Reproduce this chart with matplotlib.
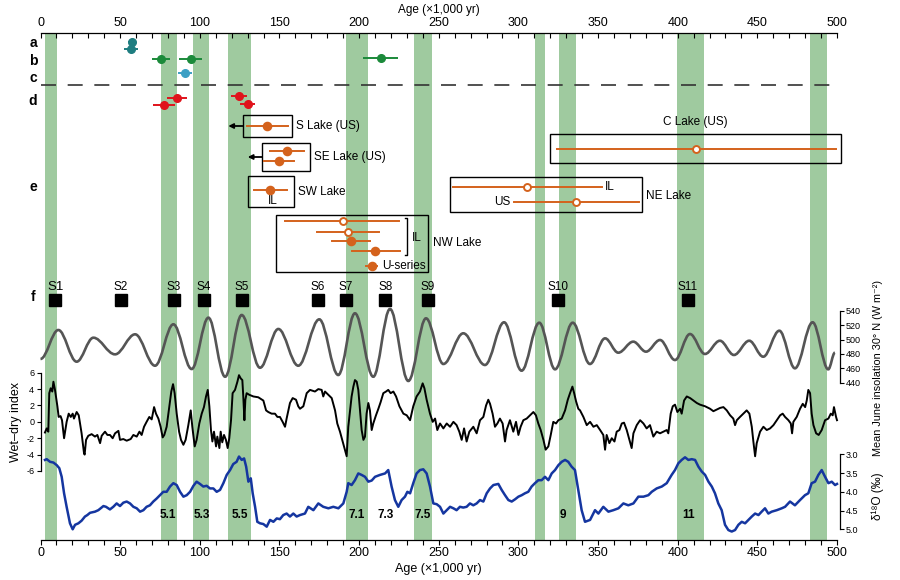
import matplotlib.pyplot as plt
from matplotlib.path import Path
from matplotlib.patches import PathPatch, Rectangle
from matplotlib.ticker import MultipleLocator

plt.rcParams['font.family'] = ['Liberation Sans', 'DejaVu Sans']
plt.rcParams['axes.unicode_minus'] = False

GREEN = '#9fca9f'
ORANGE = '#d4621c'

# ---------------- data ----------------
# interglacial / wet bands (kyr)
band_start = [2.8, 75.6, 95.9, 117.9, 191.8, 234.6, 310.2, 325.7, 399.4, 483.1]
band_end = [10.4, 85.7, 105.8, 132.0, 205.8, 245.8, 316.9, 336.3, 416.7, 493.8]

# dated records a-d (age, 1 sigma)
a_age = [57.6, 56.8]
a_err = [2.6, 4.4]
b_age = [75.8, 94.3, 213.7]
b_err = [5.7, 7.2, 11.0]
c_age = [90.7]
c_err = [4.2]
d_age = [85.5, 77.5, 124.8, 130.1]
d_err = [6.3, 7.0, 5.0, 4.8]

# lake shoreline ages (row e)
lake_age = [142.4, 154.6, 149.7, 144.3, 189.7, 192.8, 194.7, 210.0, 207.9, 411.3, 305.6, 336.3]
lake_lo = [129.4, 144.1, 140.5, 134.2, 153.5, 173.8, 182.8, 195.4, 204.1, 324.0, 259.1, 297.4]
lake_hi = [155.3, 165.6, 158.9, 154.9, 225.2, 212.5, 206.8, 225.7, 211.0, 499.2, 352.3, 375.5]
lake_open = [False, False, False, False, True, True, False, False, False, True, True, True]

# speleothem / site ages (row f)
site_names = ['S1', 'S2', 'S3', 'S4', 'S5', 'S6', 'S7', 'S8', 'S9', 'S10', 'S11']
site_age = [9.3, 50.3, 83.6, 102.4, 126.3, 174.0, 191.6, 216.4, 243.1, 324.9, 406.5]

# insolation extrema (kyr, W m-2)
ins_age = [0, 11.2, 22.7, 33.2, 46.8, 59.4, 71.9, 83.4, 94.9, 105.4, 115.9, 126.3,
           137.8, 149.3, 161.8, 175.0, 186.9, 197.4, 208.9, 219.4, 230.9, 242.0,
           252.9, 265.4, 279.0, 291.0, 302.0, 313.1, 323.0, 334.1, 344.9, 354.4,
           362.7, 372.1, 380.1, 388.9, 398.3, 407.7, 417.1, 426.5, 435.3, 444.9,
           453.7, 463.8, 473.6, 484.7, 494.5, 498.7]
ins_val = [473, 513.2, 469.2, 502.5, 479.4, 507.2, 463.6, 521.1, 459.0, 530.3, 448.3, 534.0,
           460.8, 514.6, 463.6, 528.0, 450.7, 536.4, 448.3, 542.4, 442.4, 529.4,
           466.0, 508.6, 464.6, 523.9, 456.7, 523.3, 458.6, 523.3, 466.0, 501.6,
           481.7, 497.0, 483.1, 499.3, 471.5, 507.6, 479.9, 498.3, 478.5, 498.3,
           476.1, 512.2, 460.0, 523.9, 458.6, 481.7]

# wet-dry index
wd_age = [2.8, 3.9, 4.9, 5.5, 6.4, 7.4, 8.1, 9.1, 10.6, 11.4, 12.6, 13.5, 14.8, 15.6, 16.4,
          17.7, 19.0, 20.2, 21.0, 22.7, 24.0, 24.8, 25.8, 27.3, 27.7, 28.6, 30.0, 32.1,
          34.2, 35.7, 37.4, 38.4, 40.5, 42.0, 43.6, 45.3, 46.8, 48.9, 49.9, 52.0, 54.1,
          56.6, 58.3, 60.4, 62.1, 63.5, 65.0, 66.6, 68.3, 69.8, 71.3, 72.5, 74.0, 75.4,
          76.7, 77.7, 79.2, 80.9, 82.1, 83.2, 84.2, 85.5, 87.0, 88.2, 89.7, 91.1, 92.8,
          94.3, 95.3, 96.8, 98.0, 99.7, 101.2, 102.6, 103.9, 105.0, 106.0, 107.0, 107.9,
          108.9, 110.2, 111.0, 112.3, 113.1, 114.1, 115.2, 116.4, 117.5, 118.5, 119.6,
          120.6, 122.1, 123.6, 124.6, 125.7, 126.7, 127.3, 128.0, 128.6, 129.4, 131.1,
          133.6, 136.7, 139.9, 141.6, 143.0, 145.1, 147.2, 148.7, 150.3, 152.0, 153.5,
          154.5, 156.6, 158.3, 160.4, 161.8, 162.9,
          165.0, 167.1, 169.2, 172.3, 174.4, 176.5, 177.5, 178.6, 180.7, 182.8, 184.9,
          186.3, 188.0, 189.7, 191.1, 192.2, 193.2, 194.3, 195.3, 196.4, 197.4, 198.5,
          199.5, 200.6, 201.6, 202.7, 203.7, 204.7, 205.8, 206.8, 207.9, 208.9, 210.6,
          212.1, 213.5, 215.2, 216.9, 218.3, 219.8, 221.5, 223.2, 225.3, 227.8, 229.9,
          232.0, 234.0, 236.1, 238.2, 239.9, 241.0, 242.4, 244.5, 246.2, 247.7, 249.1,
          250.8, 252.9, 255.0, 257.1, 259.2, 261.2, 262.9, 264.4, 265.9, 267.5, 269.2,
          271.7, 273.8, 275.9, 278.0, 279.7, 281.1, 282.2, 283.8, 285.3, 286.8, 288.4,
          290.1, 291.6, 292.6, 294.7, 296.8, 298.5, 300.0, 301.4, 303.1, 305.2, 307.3,
          309.4, 311.0, 312.5, 314.0, 315.7, 317.1, 318.8, 320.3, 321.9, 323.6, 325.1,
          327.2, 329.3, 331.0, 332.4, 333.9, 335.0, 336.2, 337.6,
          338.7, 340.8, 342.9, 345.0, 347.1, 349.2, 351.3, 353.3, 354.4, 355.4, 357.1,
          358.6, 360.3, 361.7, 363.4, 364.9, 366.3, 368.0, 369.7, 371.1, 372.2, 374.3,
          376.4, 378.5, 380.5, 382.6, 384.7, 386.8, 388.9, 391.0, 393.1, 394.1, 395.6,
          396.9, 398.3, 399.8, 401.5, 402.5, 404.0, 405.7, 407.8, 409.9, 412.0, 414.0,
          417.2, 420.3, 422.4, 424.5, 426.6, 428.7, 430.8, 432.9, 434.9, 436.0, 437.1,
          439.1, 441.2, 443.3, 445.0, 446.5, 447.5, 448.6, 449.6, 451.7, 453.8, 455.9,
          458.0, 460.1, 462.2, 464.3, 465.9, 467.4, 469.5, 471.0, 471.8, 472.6, 474.7,
          476.8, 478.5, 480.0, 481.0, 482.0, 483.1, 484.1, 485.2, 486.9, 488.5, 490.4,
          492.5, 494.6, 496.1, 497.3, 498.1, 499.4, 500.0]
wd_val = [-1.3, -0.8, -1.2, 3.5, 4.1, 3.7, 4.9, 3.9, 1.9, 0.6, 0.7, 0.2, -2.0, -1.0, 0.0,
          1.0, 0.6, 1.0, 0.4, 1.2, 0.8, -0.2, -1.4, -3.8, -4.0, -2.2, -1.7, -1.5,
          -1.8, -1.6, -2.6, -1.7, -1.2, -1.6, -1.6, -2.0, -1.4, -1.1, -2.2, -2.1, -2.3,
          -2.1, -1.6, -1.8, -1.2, -1.6, -0.6, 0.0, 0.6, 0.3, 1.8, 1.0, 0.4, -0.6,
          -1.9, -1.6, -0.6, 1.9, 3.7, 4.6, 3.5, 1.0, -1.2, -2.2, -2.8, -2.2, -0.4,
          1.4, -0.6, -3.0, -2.2, -0.2, 1.0, 1.8, 3.1, 3.9, 1.9, -1.0, -2.4,
          -1.2, -3.0, -1.8, -3.2, -1.2, -2.5, -1.6, -2.2, -3.2, -2.0, 0.2,
          3.5, 3.9, 4.9, 5.7, 5.3, 5.1, 3.1, 0.2, 2.7, 3.5, 3.3,
          3.1, 3.0, 2.6, 1.4, 1.2, 1.0, 1.0, 0.6, 0.6, 0.0, -0.6,
          0.4, 2.3, 2.9, 2.7, 1.9, 1.6,
          1.9, 3.5, 3.9, 3.7, 4.0, 3.9, 3.1, 3.7, 3.3, 2.9, 1.4,
          -0.2, -1.2, -2.4, -3.4, -4.2, -0.6, 1.4, 3.1, 4.3, 5.1, 4.9,
          3.9, 1.4, -1.0, -2.2, -1.8, 1.0, 2.3, 1.4, -1.0, -0.2, 0.8,
          1.6, 2.4, 3.5, 3.7, 3.9, 3.5, 3.7, 3.1, 1.9, 1.0, 0.8,
          0.2, 1.9, 3.1, 3.7, 4.7, 4.1, 2.7, 1.0, 0.0, 0.4, -1.0,
          -0.2, -0.8, -0.2, -0.6, 0.0, -0.4, -1.2, -2.2, -0.8, -2.4, -1.2,
          -0.6, -1.4, 0.2, 0.6, 2.0, 2.7, 2.2, 1.0, -0.6, -0.2, 0.4,
          -0.2, -2.4, -1.0, 0.2, -1.2, 0.0, -1.6, -0.6, 0.2, 0.4, 0.8,
          1.2, 0.8, -0.2, -1.0, -2.2, -3.4, -3.0, -1.6, 0.0, -0.2, 0.2,
          0.4, 1.4, 2.7, 3.5, 4.3, 3.5, 2.5, 1.6,
          1.4, 0.6, -0.4, 0.0, -0.6, -0.4, -1.0, -1.6, -3.4, -1.6, -2.6,
          -2.0, -2.4, -1.2, -1.0, -0.2, -0.1, -1.0, -2.2, -3.2, -1.4, -0.4,
          0.2, -0.2, -0.8, -0.4, -1.8, -1.2, -1.4, -1.2, -1.0, -1.4, 1.0,
          1.9, 2.1, 1.2, 1.6, 1.0, 2.6, 3.1, 2.9, 2.6, 2.3, 2.1,
          1.9, 1.6, 1.3, 1.5, 1.7, 1.8, 1.4, 0.8, 0.4, -0.4, 0.2,
          0.6, 1.0, 1.4, 1.0, -0.6, -2.4, -4.2, -2.6, -1.2, -0.6, -1.0,
          -0.8, -0.4, 0.2, 0.8, 1.0, 0.6, 0.2, -0.2, -1.4, 0.0, 0.6,
          1.6, 2.2, 1.8, 2.6, 3.9, 3.5, 1.0, -0.4, -1.4, -1.6, -1.0,
          0.2, 0.4, 1.0, 0.8, 1.8, 0.6, 0.2]

# benthic d18O stack
d18_age = [2.8, 3.9, 6.0, 8.1, 10.2, 11.8, 13.3, 14.8, 16.4, 18.5, 20.2, 21.7, 23.8, 25.8,
           27.9, 29.4, 31.1, 34.2, 36.3, 39.5, 41.1, 43.6, 45.7, 47.8, 49.9, 52.0, 54.1,
           56.2, 58.3, 60.4, 62.5, 64.6, 66.6, 68.7, 70.8, 72.9, 75.0, 77.1, 79.2, 81.3,
           83.4, 85.5, 87.6, 89.7, 91.8, 93.9, 96.0, 98.0, 100.1, 102.2, 104.3, 106.4,
           108.5, 110.6, 112.7, 114.8, 116.9, 119.0, 121.0, 123.1, 124.6, 126.3, 127.8,
           129.1, 130.5, 132.0, 133.2, 134.7, 136.1, 137.8, 139.9, 142.0, 144.1, 146.2,
           148.3, 150.3, 152.4, 154.5, 156.6, 158.7, 160.8,
           162.9, 166.0, 168.1, 171.3, 174.4, 177.5, 180.7, 183.8, 187.0, 190.1, 192.2,
           193.2, 195.3, 197.4, 199.5, 201.6, 203.7, 205.8, 207.9, 210.0, 213.1, 216.3,
           218.3, 220.4, 222.5, 224.6, 226.7, 228.8, 230.3, 232.0, 234.0, 236.1, 238.2,
           240.3, 242.4, 244.5, 246.6, 248.7, 250.8, 252.9, 255.0, 257.1, 259.2, 261.2,
           263.3, 265.4, 267.5, 269.6, 271.7, 273.8, 275.9, 278.0, 280.1, 282.2, 284.3,
           287.4, 289.5, 291.6, 293.7, 295.8, 297.9, 300.0, 302.1, 304.1, 306.2, 308.3,
           310.4, 312.5, 314.6, 316.7, 318.8, 320.9, 323.0, 325.1, 327.2, 329.3, 331.3,
           333.4, 335.5, 337.6, 339.7, 341.8,
           345.0, 348.1, 350.2, 353.3, 356.5, 359.6, 362.8, 365.9, 369.0, 372.2, 375.3,
           378.5, 381.6, 383.7, 386.8, 390.0, 393.1, 396.2, 398.3, 400.4, 402.5, 404.6,
           406.7, 408.8, 410.9, 413.0, 415.1, 417.2, 419.3, 421.4, 423.4, 425.5, 427.6,
           429.7, 431.8, 433.9, 436.0, 438.1, 440.2, 442.3, 444.4, 446.5, 448.6, 450.7,
           452.7, 454.8, 456.9, 459.0, 462.2, 465.3, 467.4, 470.5, 473.6, 476.8, 479.9,
           482.0, 484.1, 486.2, 488.3, 490.4, 492.5, 494.6, 496.7, 498.8, 500.0]
d18_val = [3.15, 3.13, 3.20, 3.22, 3.29, 3.37, 3.60, 4.04, 4.40, 4.84, 5.00, 4.88, 4.84, 4.77,
           4.66, 4.62, 4.56, 4.53, 4.49, 4.38, 4.40, 4.47, 4.40, 4.31, 4.38, 4.29, 4.26,
           4.31, 4.40, 4.44, 4.53, 4.49, 4.40, 4.36, 4.26, 4.18, 4.09, 4.00, 4.00, 3.86,
           3.77, 3.82, 4.00, 4.13, 4.09, 4.00, 3.84, 3.73, 3.79, 3.86, 3.84, 3.91,
           3.91, 4.00, 3.95, 3.77, 3.55, 3.42, 3.26, 3.20, 3.06, 3.15, 3.11,
           3.33, 3.73, 3.64, 4.04, 4.40, 4.80, 4.84, 4.86, 4.93, 4.75, 4.80,
           4.71, 4.73, 4.62, 4.58, 4.66, 4.58, 4.66,
           4.62, 4.58, 4.40, 4.49, 4.31, 4.40, 4.44, 4.40, 4.44, 4.31, 4.00,
           3.77, 3.82, 3.69, 3.51, 3.55, 3.60, 3.73, 3.70, 3.60, 3.55, 3.51,
           3.42, 3.86, 4.22, 4.40, 4.22, 4.13, 4.00, 4.04, 3.77, 3.51, 3.42,
           3.40, 3.51, 3.86, 4.31, 4.33, 4.40, 4.58, 4.49, 4.40, 4.44, 4.49,
           4.40, 4.42, 4.40, 4.31, 4.36, 4.31, 4.22, 4.26, 4.04, 3.91, 3.82,
           3.79, 3.95, 4.09, 4.22, 4.26, 4.20, 4.13, 4.09, 4.04, 4.00, 3.86,
           3.77, 3.69, 3.69, 3.60, 3.69, 3.51, 3.42, 3.29, 3.20, 3.15, 3.20,
           3.33, 3.42, 3.95, 4.49, 4.80,
           4.75, 4.49, 4.58, 4.40, 4.53, 4.49, 4.44, 4.31, 4.36, 4.31, 4.13,
           4.13, 4.09, 4.00, 3.91, 3.86, 3.77, 3.55, 3.42, 3.24, 3.15, 3.08,
           3.15, 3.13, 3.15, 3.33, 3.46, 3.55, 3.73, 3.86, 4.04, 4.31, 4.49,
           4.88, 5.02, 5.06, 5.02, 4.88, 4.80, 4.84, 4.75, 4.66, 4.58, 4.62,
           4.53, 4.44, 4.58, 4.53, 4.49, 4.44, 4.40, 4.26, 4.36, 4.22, 4.09,
           4.04, 3.77, 3.73, 3.55, 3.42, 3.60, 3.77, 3.73, 3.82, 3.79]

stage_names = ['5.1', '5.3', '5.5', '7.1', '7.3', '7.5', '9', '11']
stage_age = [80.0, 101.2, 125.2, 198.5, 216.9, 239.9, 328.2, 407.1]

# ---------------- layout (pixel rows of the upper panel) ----------------
a_y = [42, 49]
b_y = [59, 59, 58]
c_y = [73.3]
d_y = [98.3, 105, 96, 103.7]
lake_y = [126, 150.7, 161, 190, 220.7, 231.7, 241.3, 250.7, 265.7, 149, 187.3, 201.7]
site_y = 300

fig = plt.figure(figsize=(9, 5.8), dpi=100)
L, W = 40.5 / 900, 796.5 / 900


def fy(px):
    return 1 - px / 580


ax = fig.add_axes([L, fy(540), W, (540 - 33) / 580])
ax.set_xlim(0, 500)
ax.set_ylim(540, 33)
for s in ['left', 'right', 'top']:
    ax.spines[s].set_visible(False)
ax.set_yticks([])
ax.spines['bottom'].set_linewidth(0.9)
ax.set_xticks(range(0, 501, 50))
ax.xaxis.set_minor_locator(MultipleLocator(10))
ax.tick_params(axis='x', which='both', direction='out', length=3.5, width=0.8, labelsize=9, pad=1.5)
ax.set_xlabel('Age (×1,000 yr)', fontsize=9, labelpad=3)

top = ax.secondary_xaxis('top')
top.set_xticks(range(0, 501, 50))
top.xaxis.set_minor_locator(MultipleLocator(10))
top.tick_params(axis='x', which='both', direction='in', length=3.5, width=0.8, labelsize=9, pad=3)
top.spines['top'].set_linewidth(0.9)
top.set_xlabel('Age (×1,000 yr)', fontsize=8.5, labelpad=3)

for s, e in zip(band_start, band_end):
    ax.axvspan(s, e, color=GREEN, lw=0, zorder=0)

# rows a-d
ax.axhline(85, color='#333333', lw=1.2, dashes=(9, 7), zorder=2)
for ages, errs, ys, col in [(a_age, a_err, a_y, '#1e7d80'), (b_age, b_err, b_y, '#1b8a3a'),
                             (c_age, c_err, c_y, '#3c9fc4'), (d_age, d_err, d_y, '#e0131b')]:
    ax.errorbar(ages, ys, xerr=errs, fmt='o', color=col, ms=5.5, elinewidth=1.4,
                capsize=0, zorder=3)

for t, y in zip(['a', 'b', 'c', 'd', 'e', 'f'], [43, 61, 78, 101, 187, 297]):
    ax.text(-4.7, y, t, ha='center', va='center', fontsize=10, fontweight='bold', clip_on=False)

# row e - lake boxes
boxes = [(126.9, 157.7, 115, 136.7), (139.0, 169.2, 142.7, 170.7), (130.4, 158.9, 176, 207),
         (147.8, 243.4, 214.7, 272.3), (319.8, 502.5, 134, 163.3), (257.2, 377.4, 176.7, 212.3)]
for x0, x1, y0, y1 in boxes:
    ax.add_patch(Rectangle((x0, y0), x1 - x0, y1 - y0, fill=False, ec='black', lw=1.0,
                           clip_on=False, zorder=3))

for age, lo, hi, op, y in zip(lake_age, lake_lo, lake_hi, lake_open, lake_y):
    ax.plot([lo, hi], [y, y], color=ORANGE, lw=1.4, zorder=4, clip_on=False)
    ax.plot(age, y, 'o', ms=5.5 if not op else 5, mfc='white' if op else ORANGE,
            mec=ORANGE, mew=1.4, zorder=5)

for x_from, x_to, y in [(126.9, 117.9, 126), (139.0, 130.1, 157)]:
    ax.annotate('', xy=(x_to, y), xytext=(x_from, y),
                arrowprops=dict(arrowstyle='-|>', color='black', lw=1.3,
                                mutation_scale=7, shrinkA=0, shrinkB=0))

ax.plot([228.6, 229.9, 229.9, 228.6], [218, 218, 255, 255], color='black', lw=1.0)

fs = 8.5
ax.text(160.4, 126, 'S Lake (US)', fontsize=fs, va='center')
ax.text(171.9, 157, 'SE Lake (US)', fontsize=fs, va='center')
ax.text(161.5, 192, 'SW Lake', fontsize=fs, va='center')
ax.text(146.0, 201, 'IL', fontsize=fs, va='center', ha='center')
ax.text(233.0, 238, 'IL', fontsize=fs, va='center')
ax.text(214.2, 265.7, 'U-series', fontsize=fs, va='center')
ax.text(246.2, 243, 'NW Lake', fontsize=fs, va='center')
ax.text(411.3, 122, 'C Lake (US)', fontsize=fs, va='center', ha='center')
ax.text(354.4, 187, 'IL', fontsize=fs, va='center')
ax.text(294.7, 201.7, 'US', fontsize=fs, va='center', ha='right')
ax.text(379.9, 196, 'NE Lake', fontsize=fs, va='center')

# row f - sites
ax.plot(site_age, [site_y] * len(site_age), 's', color='black', ms=8, zorder=4)
for n, x in zip(site_names, site_age):
    ax.text(x, site_y - 13, n, ha='center', va='center', fontsize=9.5 if n == 'S1' else 8.5)

# ---- insolation ----
ax_ins = fig.add_axes([L, fy(382.7), W, 72 / 580])
ax_ins.patch.set_alpha(0)
ax_ins.set_xlim(0, 500)
ax_ins.set_ylim(440, 540)
for s in ['left', 'top', 'bottom']:
    ax_ins.spines[s].set_visible(False)
ax_ins.spines['right'].set_position(('outward', 2))
ax_ins.spines['right'].set_linewidth(0.9)
ax_ins.set_xticks([])
ax_ins.yaxis.tick_right()
ax_ins.set_yticks(range(440, 541, 20))
ax_ins.tick_params(axis='y', length=3, width=0.8, labelsize=6.5, pad=1.5)

k = 0.363
verts = [(ins_age[0], ins_val[0])]
codes = [Path.MOVETO]
for i in range(1, len(ins_age)):
    x0, y0 = ins_age[i - 1], ins_val[i - 1]
    x1, y1 = ins_age[i], ins_val[i]
    dx = x1 - x0
    verts += [(x0 + k * dx, y0), (x1 - k * dx, y1), (x1, y1)]
    codes += [Path.CURVE4] * 3
ax_ins.add_patch(PathPatch(Path(verts, codes), fc='none', ec='#555555', lw=1.9, clip_on=False))

# ---- wet-dry index ----
ax_wd = fig.add_axes([L, fy(471), W, 98.3 / 580])
ax_wd.patch.set_alpha(0)
ax_wd.set_xlim(0, 500)
ax_wd.set_ylim(-6, 6)
for s in ['right', 'top', 'bottom']:
    ax_wd.spines[s].set_visible(False)
ax_wd.spines['left'].set_linewidth(0.9)
ax_wd.set_xticks([])
ax_wd.set_yticks(range(-6, 7, 2))
ax_wd.tick_params(axis='y', length=3, width=0.8, labelsize=6.5, pad=1.5)
ax_wd.set_ylabel('Wet–dry index', fontsize=9, labelpad=3)
ax_wd.plot(wd_age, wd_val, color='black', lw=1.4, clip_on=False)

# ---- d18O ----
ax_o = fig.add_axes([L, fy(529.3), W, 75 / 580])
ax_o.patch.set_alpha(0)
ax_o.set_xlim(0, 500)
ax_o.set_ylim(5.0, 3.0)
for s in ['left', 'top', 'bottom']:
    ax_o.spines[s].set_visible(False)
ax_o.spines['right'].set_position(('outward', 2))
ax_o.spines['right'].set_linewidth(0.9)
ax_o.set_xticks([])
ax_o.yaxis.tick_right()
ax_o.set_yticks([3.0, 3.5, 4.0, 4.5, 5.0])
ax_o.set_yticklabels(['3.0', '3.5', '4.0', '4.5', '5.0'])
ax_o.tick_params(axis='y', length=3, width=0.8, labelsize=6.5, pad=1.5)
ax_o.plot(d18_age, d18_val, color='#1536a0', lw=1.8, clip_on=False)
for n, x in zip(stage_names, stage_age):
    ax_o.text(x, 4.62, n, ha='center', va='center', fontsize=8.5, fontweight='bold')

fig.text(878 / 900, fy(368), 'Mean June insolation 30° N (W m⁻²)', rotation=90,
         ha='center', va='center', fontsize=7.8)
fig.text(878 / 900, fy(496), 'δ¹⁸O (‰)', rotation=90, ha='center', va='center', fontsize=8.5)

fig.savefig('out.png', dpi=100)
